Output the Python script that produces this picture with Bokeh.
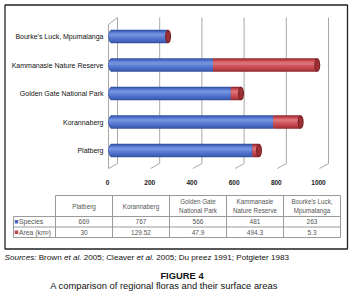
from bokeh.plotting import figure
from bokeh.models import Range1d
from bokeh.core.properties import value
from bokeh.embed import file_html
from bokeh.resources import INLINE

# ---------------- data ----------------
categories = ["Platberg", "Korannaberg", "Golden Gate National Park",
              "Kammanasie Nature Reserve", "Bourke's Luck, Mpumalanga"]
table_headers = ["Platberg", "Korannaberg", "Golden Gate\nNational Park",
                 "Kammanasie\nNature Reserve", "Bourke's Luck,\nMpumalanga"]
species = [669, 767, 566, 481, 263]
area_km2 = [30, 129.52, 47.9, 494.3, 5.3]
x_ticks = [0, 200, 400, 600, 800, 1000]
series_names = ["Species", "Area (km\u00b2)"]
source_parts = [("Sources:", "italic"), (" Brown ", "normal"), ("et al.", "italic"),
                (" 2005; Cleaver ", "normal"), ("et al.", "italic"),
                (" 2005; Du preez 1991; Potgieter 1983", "normal")]
figure_title = "FIGURE 4"
figure_caption = "A comparison of regional floras and their surface areas"

# ---------------- layout constants ----------------
W, H = 352, 296
K = 0.211          # px per species unit
X0 = 111           # px of value 0
Y0, STEP = 150, 28.5
COL0, COLW = 83.5, 57
BAR_H = 13.5 / STEP
FONT = value("Liberation Sans")

totals = [s + a for s, a in zip(species, area_km2)]
idx = list(range(len(categories)))

p = figure(width=W, height=H, output_backend="svg", toolbar_location=None,
           x_range=Range1d(0, W), y_range=Range1d(H, 0),
           x_axis_location=None, y_axis_location=None, min_border=0)
p.extra_x_ranges = {"val": Range1d(-X0 / K, (W - X0) / K),
                    "col": Range1d(-COL0 / COLW, (W - COL0) / COLW)}
p.extra_y_ranges = {"cat": Range1d((Y0 - H) / STEP, Y0 / STEP)}
p.outline_line_color = None
p.background_fill_color = "white"
p.border_fill_color = "white"
p.xgrid.grid_line_color = None
p.ygrid.grid_line_color = None

# ---------------- outer box ----------------
p.quad(left=[4.5], right=[347], top=[4.5], bottom=[248.5], fill_color=None,
       line_color="#222222", line_width=1.3)

# ---------------- 3D walls / grid ----------------
back = 6 / K
front = -3 / K
grid_col = "#a8a8a8"
p.segment(x0=[v + back for v in x_ticks], x1=[v + back for v in x_ticks],
          y0=17, y1=163, x_range_name="val", line_color=grid_col, line_width=1)
p.segment(x0=[v + back for v in x_ticks], x1=[v + front for v in x_ticks],
          y0=163, y1=168, x_range_name="val", line_color=grid_col, line_width=1)
p.segment(x0=[x_ticks[0] + front], x1=[x_ticks[0] + front], y0=24, y1=168,
          x_range_name="val", line_color=grid_col, line_width=1)
p.segment(x0=[x_ticks[0] + front], x1=[x_ticks[0] + back], y0=24, y1=17,
          x_range_name="val", line_color=grid_col, line_width=1)

# ---------------- cylinder bars ----------------
blue_layers = [(1.00, 0.00, "#33509e"), (0.86, 0.00, "#4060b6"), (0.70, 0.04, "#4c6dc6"),
               (0.48, 0.08, "#5c7dd2"), (0.24, 0.12, "#7191de")]
red_layers = [(1.00, 0.00, "#8c272c"), (0.86, 0.00, "#ad393f"), (0.70, 0.04, "#c1454b"),
              (0.48, 0.08, "#cd565c"), (0.24, 0.12, "#da7176")]

for hf, sh, col in blue_layers:
    ys = [i + sh * BAR_H for i in idx]
    p.hbar(y=ys, left=0, right=species, height=hf * BAR_H, fill_color=col, line_color=None,
           x_range_name="val", y_range_name="cat")
    p.ellipse(x=[0] * len(idx), y=ys, width=6, width_units="screen", height=hf * BAR_H,
              fill_color=col, line_color=None, x_range_name="val", y_range_name="cat")
for hf, sh, col in red_layers:
    ys = [i + sh * BAR_H for i in idx]
    p.hbar(y=ys, left=species, right=totals, height=hf * BAR_H, fill_color=col, line_color=None,
           x_range_name="val", y_range_name="cat")
p.ellipse(x=totals, y=idx, width=6, width_units="screen", height=BAR_H,
          fill_color="#7a2024", line_color=None, x_range_name="val", y_range_name="cat")
p.ellipse(x=totals, y=idx, width=4, width_units="screen", height=0.8 * BAR_H,
          fill_color="#9b3035", line_color=None, x_range_name="val", y_range_name="cat")

# ---------------- axis labels ----------------
p.text(x=x_ticks, y=[182] * len(x_ticks), text=[str(v) for v in x_ticks], x_range_name="val",
       x_offset=-4, text_font=FONT, text_font_size="6.5px", text_font_style="bold",
       text_color="#222222", text_align="center", text_baseline="middle")
p.text(x=[103] * len(idx), y=idx, text=categories, y_range_name="cat",
       text_font=FONT, text_font_size="7px", text_color="#111111",
       text_align="right", text_baseline="middle")

# ---------------- data table ----------------
tcol = "#9a9a9a"
n = len(categories)
ROW_TOP, ROW_H, ROW_S, ROW_A = 195, 216, 226.5, 237
TBL_L = 13
bounds = [i - 0.5 for i in range(n + 1)]
p.segment(x0=bounds, x1=bounds, y0=ROW_TOP, y1=ROW_A, x_range_name="col",
          line_color=tcol, line_width=1)
p.segment(x0=[bounds[0]], x1=[bounds[-1]], y0=ROW_TOP, y1=ROW_TOP, x_range_name="col",
          line_color=tcol, line_width=1)
p.segment(x0=[TBL_L, TBL_L, TBL_L, TBL_L], x1=[340, 340, 340, TBL_L],
          y0=[ROW_H, ROW_S, ROW_A, ROW_H], y1=[ROW_H, ROW_S, ROW_A, ROW_A],
          line_color=tcol, line_width=1)
p.text(x=idx, y=[(ROW_TOP + ROW_H) / 2] * n, text=table_headers, x_range_name="col",
       text_font=FONT, text_font_size="6.3px", text_color="#555555", text_align="center",
       text_baseline="middle", text_line_height=1.3)
p.text(x=idx, y=[(ROW_H + ROW_S) / 2] * n, text=[str(v) for v in species], x_range_name="col",
       text_font=FONT, text_font_size="6.5px", text_color="#555555", text_align="center",
       text_baseline="middle")
p.text(x=idx, y=[(ROW_S + ROW_A) / 2] * n, text=[f"{v:g}" for v in area_km2], x_range_name="col",
       text_font=FONT, text_font_size="6.5px", text_color="#555555", text_align="center",
       text_baseline="middle")
p.scatter(x=[TBL_L + 3, TBL_L + 3], y=[(ROW_H + ROW_S) / 2, (ROW_S + ROW_A) / 2],
          marker="square", size=3.5, fill_color=["#4a68c0", "#c0444a"], line_color=None)
p.text(x=[TBL_L + 5.5, TBL_L + 5.5], y=[(ROW_H + ROW_S) / 2, (ROW_S + ROW_A) / 2],
       text=series_names, text_font=FONT, text_font_size="6.8px",
       text_color="#555555", text_align="left", text_baseline="middle")

# ---------------- sources & caption ----------------
AW = {}
for chars, w in [(" .,;:'", 278), ("0123456789", 556), ("abdeghnopqu", 556),
                 ("cksvxyz", 500), ("ijl", 222), ("ft", 278), ("r", 333), ("m", 833),
                 ("w", 722), ("ABEKPSVXY", 667), ("CDHNRU", 722), ("FTZ", 611)]:
    for ch in chars:
        AW[ch] = w


def tw(s, size):
    return sum(AW.get(ch, 556) for ch in s) / 1000 * size


SRC_SIZE = 8.1
xpos = 4.0
for seg, style in source_parts:
    lead = len(seg) - len(seg.lstrip(" "))
    p.text(x=[xpos + tw(" " * lead, SRC_SIZE)], y=[257], text=[seg.strip(" ")],
           text_font=FONT, text_font_size=f"{SRC_SIZE}px", text_font_style=style,
           text_color="#111111", text_align="left", text_baseline="middle")
    xpos += tw(seg, SRC_SIZE)

p.text(x=[181.5], y=[275], text=[figure_title], text_font=FONT, text_font_size="9.4px",
       text_font_style="bold", text_color="#111111", text_align="center", text_baseline="middle")
p.text(x=[163.5], y=[284.5], text=[figure_caption], text_font=FONT, text_font_size="9.4px",
       text_color="#111111", text_align="center", text_baseline="middle")

open("out.html", "w").write(file_html(p, INLINE))
